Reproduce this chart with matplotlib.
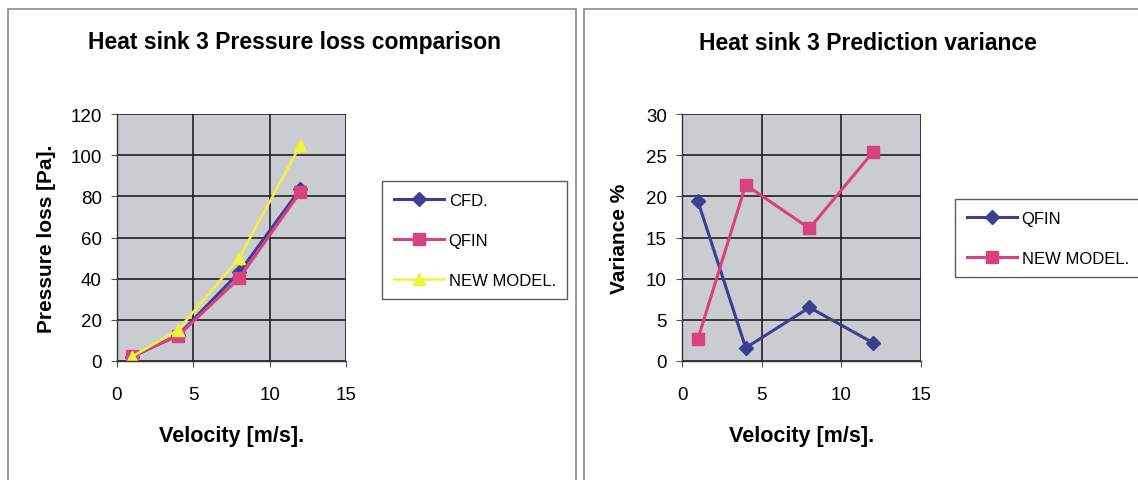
import matplotlib
matplotlib.use("Agg")
import matplotlib.pyplot as plt
from matplotlib.patches import Rectangle

plt.rcParams["font.family"] = ["Liberation Sans", "DejaVu Sans"]

# Heat sink 3 measurements
velocity = [1, 4, 8, 12]
cfd = [2.1, 12.5, 43, 83.5]
qfin = [2.5, 12.3, 40.2, 82]
new_model = [2.15, 15.1, 50, 104.7]

# Prediction variance against CFD (%)
var_qfin = [19.4, 1.6, 6.5, 2.2]
var_new_model = [2.7, 21.4, 16.1, 25.4]

NAVY = "#3b3f8f"
PINK = "#d8427e"
YELLOW = "#f2f23c"
FACE = "#cbccd2"

W, H = 1138, 481
fig = plt.figure(figsize=(W / 100, H / 100), dpi=100)
fig.patch.set_facecolor("white")

# panel frames
for x0, x1 in [(8, 576), (584, 1145)]:
    fig.patches.append(Rectangle((x0 / W, -0.05), (x1 - x0) / W, 1 - 10 / H + 0.05,
                                 transform=fig.transFigure, fill=False,
                                 edgecolor="#8a8a8a", linewidth=1.2))


def style_axes(ax, ymax, ystep):
    ax.set_facecolor(FACE)
    ax.set_xlim(0, 15)
    ax.set_ylim(0, ymax)
    ax.set_xticks(range(0, 16, 5))
    ax.set_yticks(range(0, ymax + 1, ystep))
    ax.grid(True, color="#202020", linewidth=1.2)
    ax.set_axisbelow(True)
    for side in ["top", "right"]:
        ax.spines[side].set_visible(False)
    for side in ["left", "bottom"]:
        ax.spines[side].set_color("#333333")
        ax.spines[side].set_linewidth(1.0)
    ax.tick_params(axis="y", labelsize=13.5, length=4, color="#555555", pad=7)
    ax.tick_params(axis="x", labelsize=13.5, length=4, color="#555555", pad=14)
    ax.set_xlabel("Velocity [m/s].", fontsize=15.5, fontweight="bold", labelpad=16)


def add_title(x, text):
    fig.text(x / W, 1 - 43 / H, text, ha="center", va="center",
             fontsize=16.5, fontweight="bold")


def add_legend(ax, x, y):
    leg = ax.legend(loc="upper left", bbox_to_anchor=(x / W, 1 - y / H),
                    bbox_transform=fig.transFigure, fancybox=False, frameon=True,
                    edgecolor="#333333", fontsize=12, handlelength=3.0,
                    borderpad=0.7, labelspacing=1.5, handletextpad=0.3,
                    borderaxespad=0)
    leg.get_frame().set_linewidth(1.0)


# left: pressure loss
ax1 = fig.add_axes([117 / W, 1 - 362 / H, 229 / W, 247 / H])
style_axes(ax1, 120, 20)
ax1.plot(velocity, cfd, color=NAVY, marker="D", markersize=7, linewidth=2.2, label="CFD.")
ax1.plot(velocity, qfin, color=PINK, marker="s", markersize=8, linewidth=2.2, label="QFIN")
ax1.plot(velocity, new_model, color=YELLOW, marker="^", markersize=9, linewidth=1.8, label="NEW MODEL.")
ax1.set_ylabel("Pressure loss [Pa].", fontsize=15, fontweight="bold", labelpad=10)
add_title(294, "Heat sink 3 Pressure loss comparison")
add_legend(ax1, 382, 182)

# right: prediction variance
ax2 = fig.add_axes([682 / W, 1 - 362 / H, 239 / W, 247 / H])
style_axes(ax2, 30, 5)
ax2.plot(velocity, var_qfin, color=NAVY, marker="D", markersize=7, linewidth=2.2, label="QFIN")
ax2.plot(velocity, var_new_model, color=PINK, marker="s", markersize=8, linewidth=2.2, label="NEW MODEL.")
ax2.set_ylabel("Variance %", fontsize=15, fontweight="bold", labelpad=12)
add_title(868, "Heat sink 3 Prediction variance")
add_legend(ax2, 955, 200)

fig.savefig("out.png", dpi=100)
